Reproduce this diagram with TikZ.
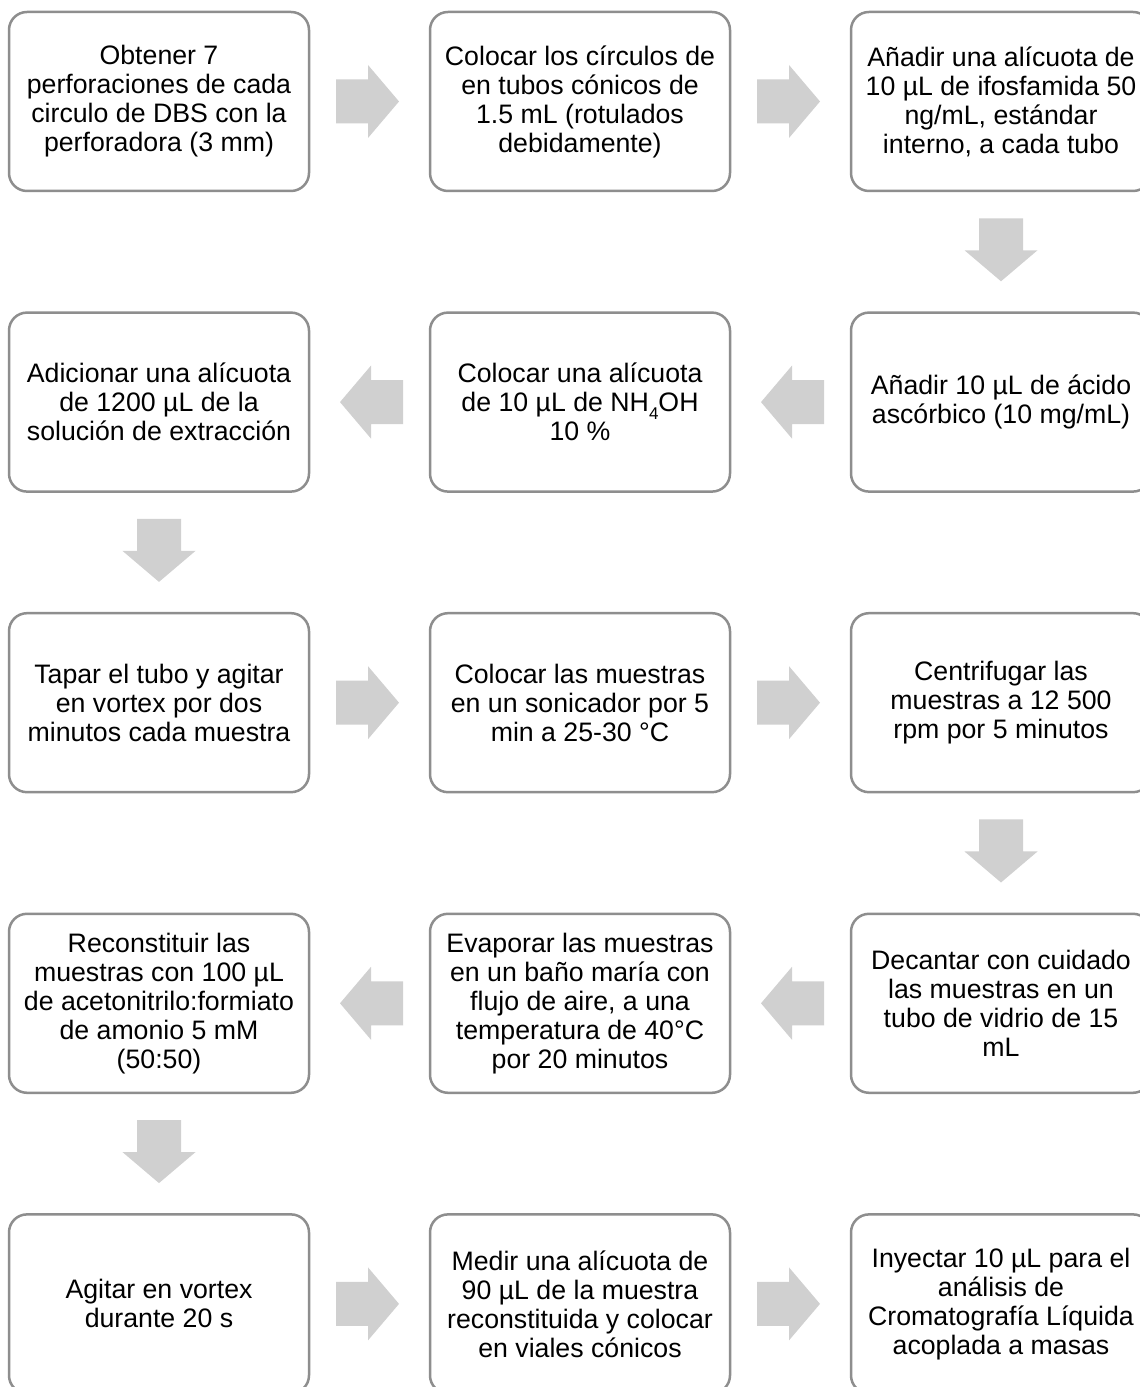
\documentclass[tikz,border=0pt]{standalone}
\usepackage{fontspec}
\setmainfont{Liberation Sans}
\usetikzlibrary{calc}
\definecolor{boxline}{RGB}{142,142,142}
\definecolor{arrowgray}{RGB}{208,208,208}
\newcommand{\subfour}{\raisebox{-0.28em}{\fontsize{17pt}{17pt}\selectfont 4}}
\tikzset{
  stepbox/.style={draw=boxline, line width=2.5pt, fill=white, rounded corners=18pt,
    minimum width=300pt, minimum height=179pt, align=center, inner sep=4pt,
    font=\fontsize{26.7pt}{29pt}\selectfont},
  rarrow/.pic={\fill[arrowgray] (-33.5,-22) -- (-1.5,-22) -- (-1.5,-36.5) -- (29.5,0)
     -- (-1.5,36.5) -- (-1.5,22) -- (-33.5,22) -- cycle;}
}
\begin{document}
\begin{tikzpicture}[x=1pt,y=1pt]
\clip (0,0) rectangle (1140,1387);
\fill[white] (0,0) rectangle (1140,1387);
% rows (centre y): 1285.5, 984.9, 684.3, 383.7, 83.1 ; columns: 159, 580, 1001
\node[stepbox] (n1) at (159,1285.5) {Obtener 7\\perforaciones de cada\\circulo de DBS con la\\perforadora (3 mm)};
\node[stepbox] (n2) at (580,1285.5) {Colocar los círculos de\\en tubos cónicos de\\1.5 mL (rotulados\\debidamente)};
\node[stepbox] (n3) at (1001,1285.5) {Añadir una alícuota de\\10 µL de ifosfamida 50\\ng/mL, estándar\\interno, a cada tubo};
\node[stepbox] (n4) at (1001,984.9) {Añadir 10 µL de ácido\\ascórbico (10 mg/mL)};
\node[stepbox] (n5) at (580,984.9) {Colocar una alícuota\\de 10 µL de NH\subfour OH\\10 \%};
\node[stepbox] (n6) at (159,984.9) {Adicionar una alícuota\\de 1200 µL de la\\solución de extracción};
\node[stepbox] (n7) at (159,684.3) {Tapar el tubo y agitar\\en vortex por dos\\minutos cada muestra};
\node[stepbox] (n8) at (580,684.3) {Colocar las muestras\\en un sonicador por 5\\min a 25-30 °C};
\node[stepbox] (n9) at (1001,684.3) {Centrifugar las\\muestras a 12 500\\rpm por 5 minutos};
\node[stepbox] (n10) at (1001,383.7) {Decantar con cuidado\\las muestras en un\\tubo de vidrio de 15\\mL};
\node[stepbox] (n11) at (580,383.7) {Evaporar las muestras\\en un baño maría con\\flujo de aire, a una\\temperatura de 40°C\\por 20 minutos};
\node[stepbox] (n12) at (159,383.7) {Reconstituir las\\muestras con 100 µL\\de acetonitrilo:formiato\\de amonio 5 mM\\(50:50)};
\node[stepbox] (n13) at (159,83.1) {Agitar en vortex\\durante 20 s};
\node[stepbox] (n14) at (580,83.1) {Medir una alícuota de\\90 µL de la muestra\\reconstituida y colocar\\en viales cónicos};
\node[stepbox] (n15) at (1001,83.1) {Inyectar 10 µL para el\\análisis de\\Cromatografía Líquida\\acoplada a masas};
% block arrows between steps
\pic at ($(n1.east)!0.5!(n2.west)$) {rarrow};
\pic at ($(n2.east)!0.5!(n3.west)$) {rarrow};
\pic[rotate=-90] at ($(n3.south)!0.5!(n4.north)$) {rarrow};
\pic[rotate=180] at ($(n4.west)!0.5!(n5.east)$) {rarrow};
\pic[rotate=180] at ($(n5.west)!0.5!(n6.east)$) {rarrow};
\pic[rotate=-90] at ($(n6.south)!0.5!(n7.north)$) {rarrow};
\pic at ($(n7.east)!0.5!(n8.west)$) {rarrow};
\pic at ($(n8.east)!0.5!(n9.west)$) {rarrow};
\pic[rotate=-90] at ($(n9.south)!0.5!(n10.north)$) {rarrow};
\pic[rotate=180] at ($(n10.west)!0.5!(n11.east)$) {rarrow};
\pic[rotate=180] at ($(n11.west)!0.5!(n12.east)$) {rarrow};
\pic[rotate=-90] at ($(n12.south)!0.5!(n13.north)$) {rarrow};
\pic at ($(n13.east)!0.5!(n14.west)$) {rarrow};
\pic at ($(n14.east)!0.5!(n15.west)$) {rarrow};
\end{tikzpicture}
\end{document}
